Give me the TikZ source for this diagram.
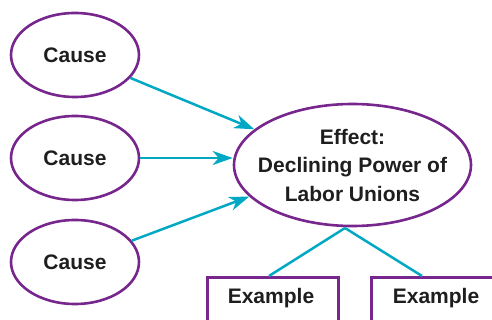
\documentclass[tikz,border=0pt]{standalone}
\usepackage{fontspec}
\setmainfont{Liberation Sans}
\usetikzlibrary{shapes.geometric,arrows.meta}
\definecolor{ovalpurple}{RGB}{118,38,140}
\definecolor{arrowteal}{RGB}{0,168,196}
\definecolor{textdark}{RGB}{30,30,30}
\tikzset{
  causeoval/.style={ellipse, draw=ovalpurple, line width=2.6pt, minimum width=128pt, minimum height=84pt, inner sep=0pt, font=\bfseries\fontsize{21}{25}\selectfont, text=textdark},
  effectoval/.style={ellipse, draw=ovalpurple, line width=2.6pt, minimum width=237pt, minimum height=122pt, inner sep=0pt},
  efftext/.style={align=center, inner sep=0pt, font=\bfseries\fontsize{21}{28.5}\selectfont, text=textdark},
  exbox/.style={rectangle, draw=ovalpurple, line width=2.6pt, minimum width=131pt, minimum height=70pt, inner sep=0pt, anchor=north west},
  exlabel/.style={font=\bfseries\fontsize{21}{25}\selectfont, text=textdark, inner sep=0pt},
  conn/.style={draw=arrowteal, line width=2.5pt},
  arr/.style={conn, -{Stealth[length=20pt,width=14pt,inset=6pt]}},
}
\begin{document}
\begin{tikzpicture}[x=1pt,y=-1pt]
\clip (0,0) rectangle (492,320);
\useasboundingbox (0,0) rectangle (492,320);
\node[causeoval] (c1) at (75,55) {Cause};
\node[causeoval] (c2) at (75,158) {Cause};
\node[causeoval] (c3) at (75,262) {Cause};
\node[effectoval] (eff) at (352.5,165) {};
\node[efftext] (efft) at (352.5,165) {Effect:\\Declining Power of\\Labor Unions};
\node[exbox] (ex1) at (206,276) {};
\node[exbox] (ex2) at (370,276) {};
\node[exlabel] (ex1t) at (271,298) {Example};
\node[exlabel] (ex2t) at (436,298) {Example};
\coordinate (junc) at (345,228);
\coordinate (e1top) at (269,276);
\coordinate (e2top) at (422,276);
\draw[arr] (c1) -- (eff.160);
\draw[arr] (c2) -- (c2 -| eff.west);
\draw[arr] (c3) -- (eff.197);
\draw[conn] (junc) -- (e1top);
\draw[conn] (junc) -- (e2top);
\end{tikzpicture}
\end{document}
